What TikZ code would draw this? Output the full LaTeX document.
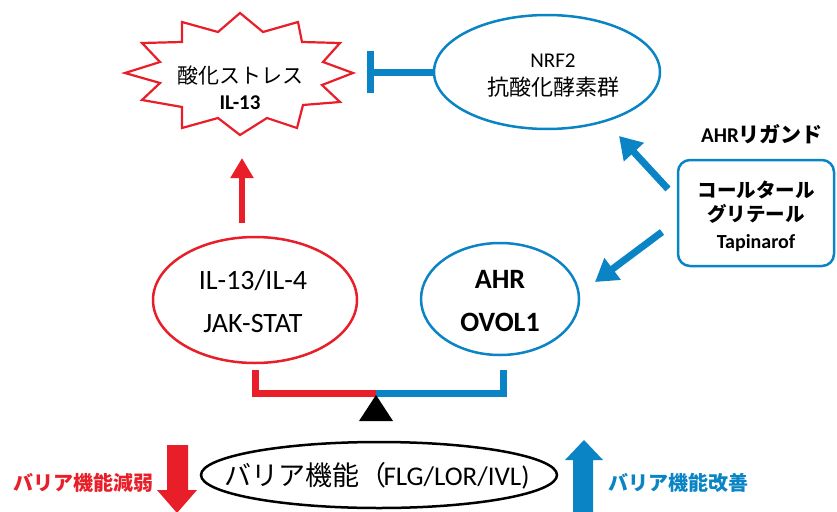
\documentclass[tikz,border=0pt]{standalone}
\usepackage{fontspec}
\setmainfont{Carlito}
\newfontfamily\jp{Noto Sans CJK JP}
\usetikzlibrary{arrows.meta,shapes.geometric}
\definecolor{myred}{RGB}{232,30,40}
\definecolor{myblue}{RGB}{10,132,196}
\tikzset{
  redell/.style={draw=myred, line width=2.5pt, ellipse, inner sep=0pt},
  blueell/.style={draw=myblue, line width=2.5pt, ellipse, inner sep=0pt},
  bluearrow/.style={myblue, line width=7pt, -{Triangle[length=22pt,width=26pt]}},
  redarrow/.style={myred, line width=6pt, -{Triangle[length=20pt,width=22pt]}},
  lbl/.style={align=center, inner sep=0pt}
}
\begin{document}
\begin{tikzpicture}[x=1pt,y=-1pt]
\useasboundingbox (0,0) rectangle (837,511);
% starburst
\draw[myred, line width=2.2pt, fill=white, line join=miter]
 (240,13)--(263,32)--(298,22)--(302,42)--(340,43)--(323,62)--(353,73)--(322,85)--(340,102)--(303,105)--(297,128)--(267,118)--(240,135)--(218,118)--(182,128)--(182,107)--(142,100)--(160,83)--(125,73)--(160,62)--(142,43)--(182,42)--(182,22)--(218,32)--cycle;
\node[lbl, font=\fontsize{21}{26}\selectfont] (stress) at (240,88) {{\jp 酸化ストレス}\\{\fontsize{21}{24}\selectfont\bfseries IL-13}};
% NRF2
\node[blueell, minimum width=226pt, minimum height=114pt] (nrf) at (547,72) {};
\node[lbl, font=\fontsize{21}{28}\selectfont] (nrft) at (553,76) {NRF2\\{\fontsize{22}{24}\selectfont\jp 抗酸化酵素群}};
% inhibition
\coordinate (bar) at (370,72);
\draw[myblue, line width=7pt] (nrf.west) -- (bar);
\draw[myblue, line width=7pt] ([yshift=-21pt]bar) -- ([yshift=21pt]bar);
% ligand
\node[lbl, font=\fontsize{21}{24}\selectfont\bfseries] (ligt) at (762,134) {AHR{\jp リガンド}};
\node[draw=myblue, line width=2.5pt, rounded corners=12pt, minimum width=156pt, minimum height=106pt] (lig) at (756,213) {};
\node[lbl, font=\fontsize{19.5}{24}\selectfont\bfseries] (ligtxt) at (756,216) {{\jp コールタール}\\{\jp グリテール}\\[3pt]{\fontsize{20}{20}\selectfont Tapinarof}};
% IL ellipse
\node[redell, minimum width=204pt, minimum height=126pt] (il) at (255,300) {};
\node[lbl, font=\fontsize{28}{43}\selectfont] (ilt) at (253,301) {IL-13/IL-4\\JAK-STAT};
% AHR ellipse
\node[blueell, minimum width=158pt, minimum height=112pt] (ahr) at (500,299) {};
\node[lbl, font=\fontsize{28}{43}\selectfont\bfseries] (ahrt) at (500,301) {AHR\\OVOL1};
% arrows
\coordinate (ilup) at (242,223);
\coordinate (stressdn) at (242,158);
\draw[redarrow] (ilup) -- (stressdn);
\coordinate (l1) at (668,189);
\coordinate (n1) at (619,136);
\draw[bluearrow] (l1) -- (n1);
\coordinate (l2) at (662,232);
\coordinate (a2) at (595,282);
\draw[bluearrow] (l2) -- (a2);
% balance
\coordinate (pivot) at (376,393);
\draw[myred, line width=7pt, line join=miter] (255,370) |- (pivot);
\draw[myblue, line width=7pt, line join=miter] (pivot) -| (503,370);
\fill[black] (376,395) -- (393,421) -- (359,421) -- cycle;
% barrier ellipse
\node[draw=black, line width=2.5pt, ellipse, inner sep=0pt, minimum width=356pt, minimum height=66pt] (barrier) at (379,475) {};
\node[lbl, font=\fontsize{27}{30}\selectfont] (barriert) at (377,476) {{\jp バリア機能（}\hspace{-3pt}FLG/LOR/IVL)};
% block arrows
\fill[myred] (167,445) -- (188,445) -- (188,490) -- (197,490) -- (177,513) -- (157,490) -- (167,490) -- cycle;
\fill[myblue] (573,513) -- (593,513) -- (593,460) -- (603,460) -- (584,440) -- (565,460) -- (573,460) -- cycle;
\node[lbl, text=myred, font=\fontsize{20}{22}\selectfont\jp\bfseries] (weak) at (83,483) {バリア機能減弱};
\node[lbl, text=myblue, font=\fontsize{20}{22}\selectfont\jp\bfseries] (improve) at (678,483) {バリア機能改善};
\end{tikzpicture}
\end{document}
